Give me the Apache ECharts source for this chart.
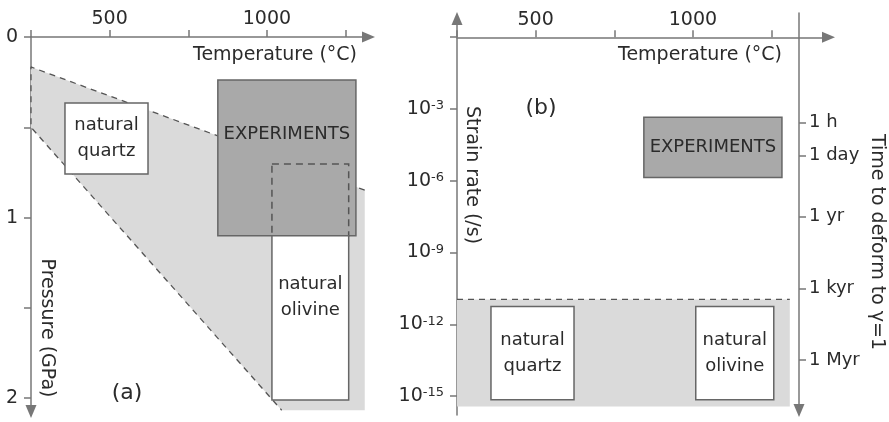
<!DOCTYPE html>
<html>
<head>
<meta charset="utf-8">
<script src="https://cdn.jsdelivr.net/npm/echarts@6/dist/echarts.min.js"></script>
<style>
html, body { margin: 0; padding: 0; background: #fff; }
#chart { width: 889px; height: 422px; }
</style>
</head>
<body>
<div id="chart"></div>
<script>
var FONT = '"DejaVu Sans", sans-serif';

// temperature axis (°C), shared by both panels
var tempTicks = [250, 500, 750, 1000, 1250];
var tempLabels = [500, 1000];

// (a) pressure axis (GPa)
var pressTicks = [0, 0.5, 1, 1.5, 2];
var pressLabels = [0, 1, 2];

// (a) grey field: outline, and its dashed edges
var fieldT = [250, 1311, 1311, 1047, 250];
var fieldP = [0.166, 0.848, 2.067, 2.067, 0.5];
var fieldEdgeT = [1311, 250, 250, 1047];
var fieldEdgeP = [0.848, 0.166, 0.5, 2.067];

// boxes: [T min, T max, y min, y max]
var quartzA = [358, 622, 0.366, 0.759];
var experimentsA = [844, 1283, 0.238, 1.10];
var overlapA = [1016, 1260, 0.704, 1.10];
var olivineA = [1016, 1260, 1.10, 2.01];

// (b) log10 of strain rate (/s)
var rateTicks = [0, -3, -6, -9, -12, -15];
var rateLabels = [-3, -6, -9, -12, -15];
var naturalBand = [250, 1308, -15.44, -10.96];
var quartzB = [358, 622, -15.15, -11.26];
var olivineB = [1009, 1257, -15.15, -11.26];
var experimentsB = [844, 1283, -5.86, -3.35];

// (b) right axis: time to deform to γ=1
var timeNames = ['1 h', '1 day', '1 yr', '1 kyr', '1 Myr'];
var timeSeconds = [3600, 86400, 3.156e7, 3.156e10, 3.156e13];
var timeTicks = timeSeconds.map(function (s) { return Math.log10(s); });

var axisColor = '#777';
var textColor = '#2b2b2b';

function axisLine(inverse) {
  return {
    show: true,
    onZero: false,
    symbol: inverse ? ['triangle', 'none'] : ['none', 'triangle'],
    symbolSize: [11, 13],
    lineStyle: { color: axisColor, width: 1.5 }
  };
}
function ticks(values) {
  return { show: true, length: 7, customValues: values, lineStyle: { color: axisColor, width: 1.5 } };
}
function plain(v) { return String(v); }

function boxSeries(xi, yi, z, box, fill, stroke, dash, label, textPos) {
  return {
    type: 'custom',
    xAxisIndex: xi,
    yAxisIndex: yi,
    z: z,
    silent: true,
    data: [box],
    renderItem: function (params, api) {
      var p0 = api.coord([api.value(0), api.value(2)]);
      var p1 = api.coord([api.value(1), api.value(3)]);
      var el = {
        type: 'rect',
        shape: {
          x: Math.min(p0[0], p1[0]),
          y: Math.min(p0[1], p1[1]),
          width: Math.abs(p1[0] - p0[0]),
          height: Math.abs(p1[1] - p0[1])
        },
        style: { fill: fill, stroke: stroke, lineWidth: 1.5, lineDash: dash }
      };
      if (label) {
        el.textContent = {
          style: { text: label, fontSize: 18, fontFamily: FONT, fill: textColor, align: 'center', lineHeight: 26 }
        };
        el.textConfig = textPos || { position: 'inside' };
      }
      return el;
    }
  };
}

var chart = echarts.init(document.getElementById('chart'), null, { renderer: 'canvas' });

chart.setOption({
  animation: false,
  backgroundColor: '#fff',
  textStyle: { fontFamily: FONT },
  grid: [
    { left: 31, top: 37, width: 337.5, height: 374.5, outerBoundsMode: 'none', containLabel: false },
    { left: 457, top: 18.5, width: 371.5, height: 396.5, outerBoundsMode: 'none', containLabel: false },
    { left: 789, top: 13, width: 10, height: 397.5, outerBoundsMode: 'none', containLabel: false }
  ],
  xAxis: [
    {
      gridIndex: 0, type: 'value', position: 'top', min: 250, max: 1323,
      axisLine: axisLine(false), axisTick: ticks(tempTicks),
      axisLabel: { customValues: tempLabels, formatter: plain, color: textColor, fontSize: 19, margin: 8 },
      splitLine: { show: false }
    },
    {
      // drawn where the strain-rate axis reads 10^0
      gridIndex: 1, type: 'value', position: 'top', offset: -18.75, min: 250, max: 1431,
      axisLine: axisLine(false), axisTick: ticks(tempTicks),
      axisLabel: { customValues: tempLabels, formatter: plain, color: textColor, fontSize: 19, margin: 8 },
      splitLine: { show: false }
    },
    { gridIndex: 2, type: 'value', min: 1, max: 2, show: false }
  ],
  yAxis: [
    {
      gridIndex: 0, type: 'value', inverse: true, min: 0, max: 2.074,
      axisLine: axisLine(true), axisTick: ticks(pressTicks),
      axisLabel: { customValues: pressLabels, formatter: plain, color: textColor, fontSize: 19, margin: 13 },
      splitLine: { show: false }
    },
    {
      gridIndex: 1, type: 'value', min: -15.79, max: 0.78,
      axisLine: axisLine(false), axisTick: ticks(rateTicks),
      axisLabel: {
        customValues: rateLabels, color: textColor, fontSize: 19, margin: 13,
        formatter: function (v) { return '10{sup|' + v + '}'; },
        rich: { sup: { fontSize: 13, verticalAlign: 'top', color: textColor, fontFamily: FONT } }
      },
      splitLine: { show: false }
    },
    {
      gridIndex: 2, type: 'value', position: 'right', inverse: true, min: -1.014, max: 15.6,
      axisLine: axisLine(true), axisTick: ticks(timeTicks),
      axisLabel: {
        customValues: timeTicks, color: textColor, fontSize: 18, margin: 10,
        formatter: function (v) {
          var i = timeTicks.indexOf(v);
          return i >= 0 ? timeNames[i] : '';
        }
      },
      splitLine: { show: false }
    }
  ],
  series: [
    {
      type: 'custom', xAxisIndex: 0, yAxisIndex: 0, z: 1, silent: true, data: [0],
      renderItem: function (params, api) {
        var pts = fieldT.map(function (t, i) { return api.coord([t, fieldP[i]]); });
        return { type: 'polygon', shape: { points: pts }, style: { fill: '#dadada' } };
      }
    },
    {
      type: 'line', xAxisIndex: 0, yAxisIndex: 0, z: 2, silent: true, symbol: 'none',
      data: fieldEdgeT.map(function (t, i) { return [t, fieldEdgeP[i]]; }),
      lineStyle: { color: '#555', width: 1.3, type: [6, 5] }
    },
    boxSeries(0, 0, 3, experimentsA, '#a9a9a9', '#666', null, 'EXPERIMENTS', { position: 'insideTop', distance: 42 }),
    boxSeries(0, 0, 4, overlapA, 'none', '#555', [7, 5], null),
    boxSeries(0, 0, 5, olivineA, '#fff', '#666', null, 'natural\nolivine', { position: 'insideTop', distance: 36 }),
    boxSeries(0, 0, 5, quartzA, '#fff', '#666', null, 'natural\nquartz'),

    boxSeries(1, 1, 1, naturalBand, '#dadada', 'none', null, null),
    {
      type: 'line', xAxisIndex: 1, yAxisIndex: 1, z: 2, silent: true, symbol: 'none',
      data: [[naturalBand[0], naturalBand[3]], [naturalBand[1], naturalBand[3]]],
      lineStyle: { color: '#555', width: 1.3, type: [6, 5] }
    },
    boxSeries(1, 1, 5, quartzB, '#fff', '#666', null, 'natural\nquartz'),
    boxSeries(1, 1, 5, olivineB, '#fff', '#666', null, 'natural\nolivine'),
    boxSeries(1, 1, 5, experimentsB, '#a9a9a9', '#666', null, 'EXPERIMENTS')
  ],
  graphic: [
    { type: 'text', x: 357, y: 55, style: { text: 'Temperature (°C)', fontSize: 19, fontFamily: FONT, fill: textColor, align: 'right', verticalAlign: 'middle' } },
    { type: 'text', x: 782, y: 55, style: { text: 'Temperature (°C)', fontSize: 19, fontFamily: FONT, fill: textColor, align: 'right', verticalAlign: 'middle' } },
    { type: 'text', x: 46.5, y: 328, rotation: -Math.PI / 2, style: { text: 'Pressure (GPa)', fontSize: 19, fontFamily: FONT, fill: textColor, align: 'center', verticalAlign: 'middle' } },
    { type: 'text', x: 472, y: 175, rotation: -Math.PI / 2, style: { text: 'Strain rate (/s)', fontSize: 19, fontFamily: FONT, fill: textColor, align: 'center', verticalAlign: 'middle' } },
    { type: 'text', x: 877, y: 242, rotation: -Math.PI / 2, style: { text: 'Time to deform to γ=1', fontSize: 19, fontFamily: FONT, fill: textColor, align: 'center', verticalAlign: 'middle' } },
    { type: 'text', x: 127, y: 393, style: { text: '(a)', fontSize: 22, fontFamily: FONT, fill: textColor, align: 'center', verticalAlign: 'middle' } },
    { type: 'text', x: 541, y: 108, style: { text: '(b)', fontSize: 22, fontFamily: FONT, fill: textColor, align: 'center', verticalAlign: 'middle' } }
  ]
});
</script>
</body>
</html>
